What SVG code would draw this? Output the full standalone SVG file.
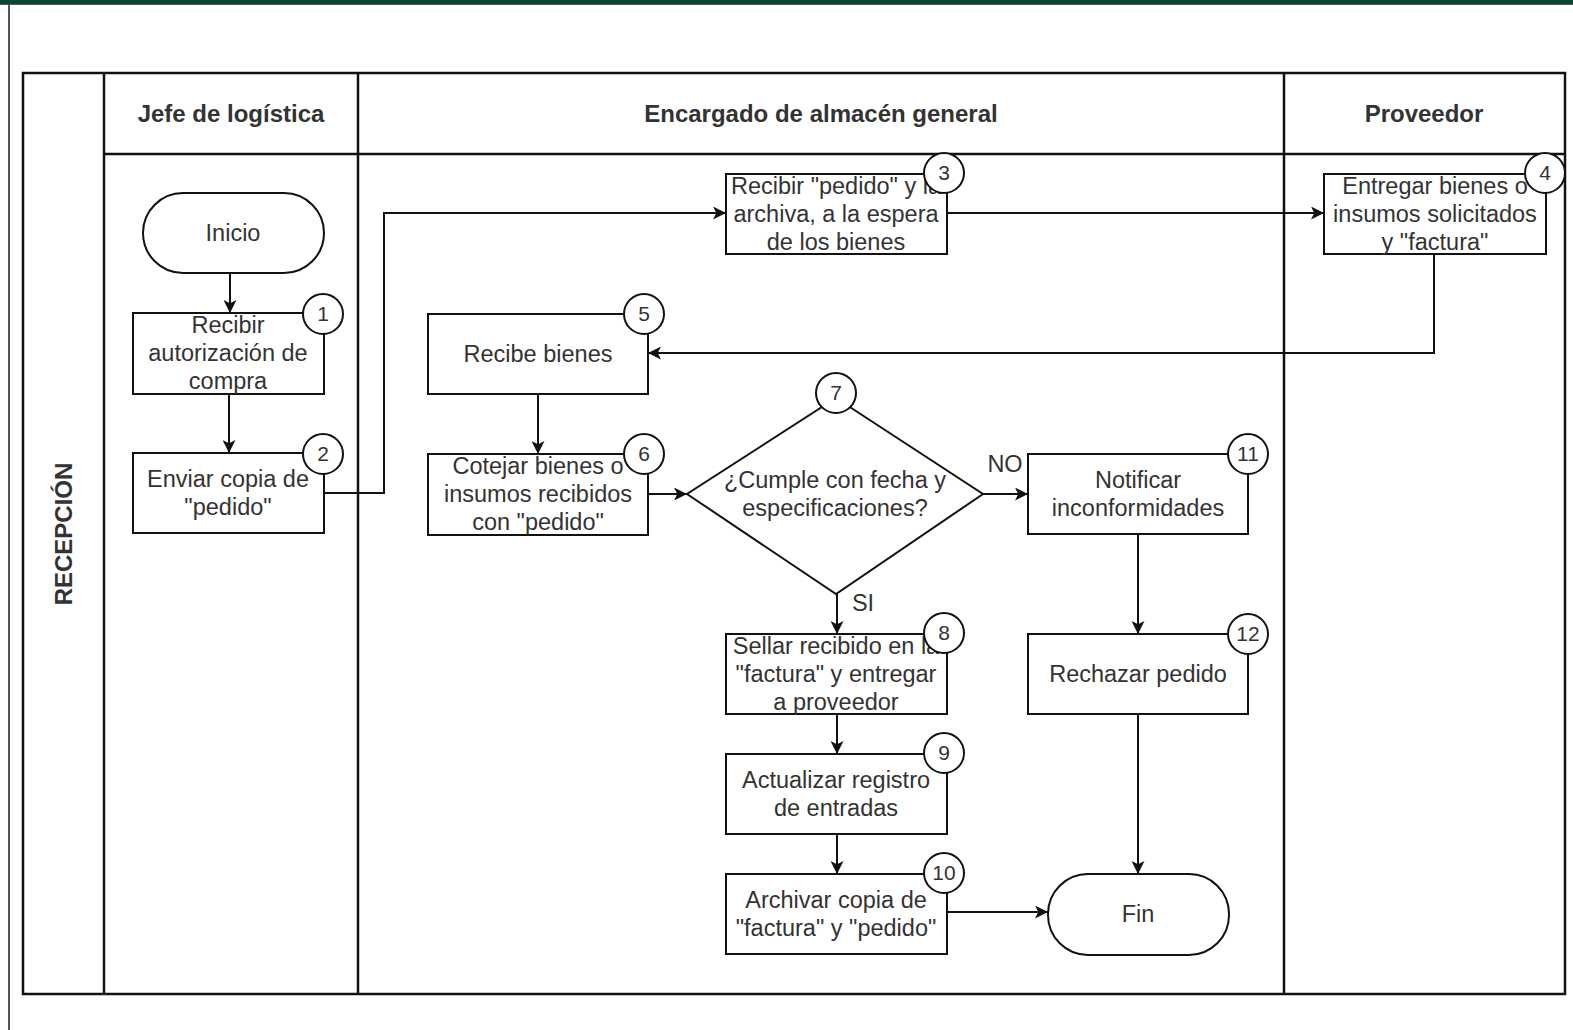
<svg xmlns="http://www.w3.org/2000/svg" width="1573" height="1030" viewBox="0 0 1573 1030">
<defs>
<style>
.pool{fill:none;stroke:#111;stroke-width:2.5}
.sh{fill:#fff;stroke:#111;stroke-width:2}
.num{fill:#fff;stroke:#111;stroke-width:2}
.t{font-family:"Liberation Sans",Arial,sans-serif;font-size:23.5px;fill:#333;text-anchor:middle}
.h{font-family:"Liberation Sans",Arial,sans-serif;font-size:24px;font-weight:bold;fill:#333;text-anchor:middle}
.n{font-family:"Liberation Sans",Arial,sans-serif;font-size:21px;fill:#333;text-anchor:middle}
.c{fill:none;stroke:#111;stroke-width:2}
</style>
<marker id="arr" viewBox="0 0 10 10" refX="10" refY="5" markerWidth="6.5" markerHeight="6.5" orient="auto" markerUnits="strokeWidth">
<path d="M0,0 L10,5 L0,10 L2.5,5 Z" fill="#111"/>
</marker>
</defs>
<rect x="0" y="0" width="1573" height="1030" fill="#fff"/>
<rect x="0" y="0" width="1573" height="4" fill="#074a2f"/>
<line x1="0" y1="4.5" x2="1573" y2="4.5" stroke="#555" stroke-width="1"/>
<line x1="9" y1="4" x2="9" y2="1030" stroke="#555" stroke-width="2"/>

<g id="pool">
<rect class="pool" x="23" y="73" width="1542" height="921"/>
<line class="pool" x1="104" y1="154" x2="1565" y2="154"/>
<line class="pool" x1="104" y1="73" x2="104" y2="994"/>
<line class="pool" x1="358" y1="73" x2="358" y2="994"/>
<line class="pool" x1="1284" y1="73" x2="1284" y2="994"/>
<text class="h" x="231" y="122">Jefe de logística</text>
<text class="h" x="821" y="122">Encargado de almacén general</text>
<text class="h" x="1424" y="122">Proveedor</text>
<text class="h" transform="translate(72,534) rotate(-90)">RECEPCIÓN</text>
</g>

<g id="connectors">
<path class="c" d="M230,273 L230,313" marker-end="url(#arr)"/>
<path class="c" d="M229,394 L229,453" stroke-width="3" marker-end="url(#arr)"/>
<path class="c" d="M324,493 L384,493 L384,213 L726,213" marker-end="url(#arr)"/>
<path class="c" d="M947,213 L1324,213" marker-end="url(#arr)"/>
<path class="c" d="M1434,254 L1434,353 L648,353" marker-end="url(#arr)"/>
<path class="c" d="M538,394 L538,454" marker-end="url(#arr)"/>
<path class="c" d="M648,494 L687,494" marker-end="url(#arr)"/>
<path class="c" d="M983,494 L1028,494" marker-end="url(#arr)"/>
<path class="c" d="M837,594 L837,634" marker-end="url(#arr)"/>
<path class="c" d="M837,714 L837,754" marker-end="url(#arr)"/>
<path class="c" d="M837,834 L837,874" marker-end="url(#arr)"/>
<path class="c" d="M947,912 L1048,912" marker-end="url(#arr)"/>
<path class="c" d="M1138,534 L1138,634" marker-end="url(#arr)"/>
<path class="c" d="M1138,714 L1138,874" marker-end="url(#arr)"/>
<text class="t" x="1005" y="472">NO</text>
<text class="t" x="863" y="611">SI</text>
</g>

<g id="inicio">
<rect class="sh" x="143" y="193" width="181" height="80" rx="40" ry="40"/>
<text class="t" x="233" y="241">Inicio</text>
</g>

<g id="n1">
<rect class="sh" x="133" y="313" width="191" height="81"/>
<text class="t" x="228" y="333">Recibir</text>
<text class="t" x="228" y="361">autorización de</text>
<text class="t" x="228" y="389">compra</text>
<circle class="num" cx="323" cy="314" r="20"/>
<text class="n" x="323" y="321">1</text>
</g>

<g id="n2">
<rect class="sh" x="133" y="453" width="191" height="80"/>
<text class="t" x="228" y="487">Enviar copia de</text>
<text class="t" x="228" y="515">"pedido"</text>
<circle class="num" cx="323" cy="454" r="20"/>
<text class="n" x="323" y="461">2</text>
</g>

<g id="n3">
<rect class="sh" x="726" y="174" width="221" height="80"/>
<text class="t" x="836" y="194">Recibir "pedido" y la</text>
<text class="t" x="836" y="222">archiva, a la espera</text>
<text class="t" x="836" y="250">de los bienes</text>
<circle class="num" cx="944" cy="173" r="20"/>
<text class="n" x="944" y="180">3</text>
</g>

<g id="n4">
<rect class="sh" x="1324" y="174" width="222" height="80"/>
<text class="t" x="1435" y="194">Entregar bienes o</text>
<text class="t" x="1435" y="222">insumos solicitados</text>
<text class="t" x="1435" y="250">y "factura"</text>
<circle class="num" cx="1545" cy="173" r="20"/>
<text class="n" x="1545" y="180">4</text>
</g>

<g id="n5">
<rect class="sh" x="428" y="314" width="220" height="80"/>
<text class="t" x="538" y="362">Recibe bienes</text>
<circle class="num" cx="644" cy="314" r="20"/>
<text class="n" x="644" y="321">5</text>
</g>

<g id="n6">
<rect class="sh" x="428" y="454" width="220" height="81"/>
<text class="t" x="538" y="474">Cotejar bienes o</text>
<text class="t" x="538" y="502">insumos recibidos</text>
<text class="t" x="538" y="530">con "pedido"</text>
<circle class="num" cx="644" cy="454" r="20"/>
<text class="n" x="644" y="461">6</text>
</g>

<g id="n7">
<path class="sh" d="M836,398 L983,494 L836,594 L687,494 Z"/>
<text class="t" x="835" y="488">¿Cumple con fecha y</text>
<text class="t" x="835" y="516">especificaciones?</text>
<circle class="num" cx="836" cy="393" r="20"/>
<text class="n" x="836" y="400">7</text>
</g>

<g id="n8">
<rect class="sh" x="726" y="634" width="221" height="80"/>
<text class="t" x="836" y="654">Sellar recibido en la</text>
<text class="t" x="836" y="682">"factura" y entregar</text>
<text class="t" x="836" y="710">a proveedor</text>
<circle class="num" cx="944" cy="633" r="20"/>
<text class="n" x="944" y="640">8</text>
</g>

<g id="n9">
<rect class="sh" x="726" y="754" width="221" height="80"/>
<text class="t" x="836" y="788">Actualizar registro</text>
<text class="t" x="836" y="816">de entradas</text>
<circle class="num" cx="944" cy="753" r="20"/>
<text class="n" x="944" y="760">9</text>
</g>

<g id="n10">
<rect class="sh" x="726" y="874" width="221" height="80"/>
<text class="t" x="836" y="908">Archivar copia de</text>
<text class="t" x="836" y="936">"factura" y "pedido"</text>
<circle class="num" cx="944" cy="873" r="20"/>
<text class="n" x="944" y="880">10</text>
</g>

<g id="n11">
<rect class="sh" x="1028" y="454" width="220" height="80"/>
<text class="t" x="1138" y="488">Notificar</text>
<text class="t" x="1138" y="516">inconformidades</text>
<circle class="num" cx="1248" cy="454" r="20"/>
<text class="n" x="1248" y="461">11</text>
</g>

<g id="n12">
<rect class="sh" x="1028" y="634" width="220" height="80"/>
<text class="t" x="1138" y="682">Rechazar pedido</text>
<circle class="num" cx="1248" cy="634" r="20"/>
<text class="n" x="1248" y="641">12</text>
</g>

<g id="fin">
<rect class="sh" x="1048" y="874" width="181" height="81" rx="40" ry="40"/>
<text class="t" x="1138" y="922">Fin</text>
</g>
</svg>
